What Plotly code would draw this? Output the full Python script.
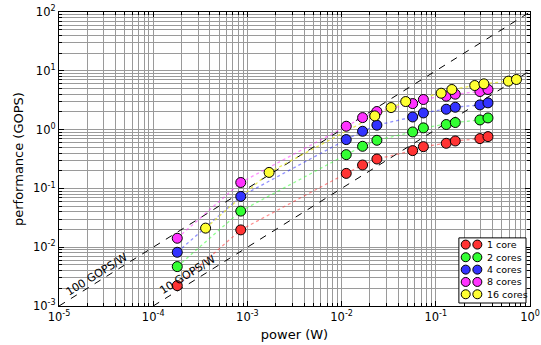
import numpy as np
import plotly.graph_objects as go

# ---- data ----
power_w = [1.8e-4, 8.5e-4, 0.0112, 0.0167, 0.0237, 0.0568, 0.0738, 0.129, 0.161, 0.294, 0.358]
power_w_16 = [3.6e-4, 1.7e-3, 0.0225, 0.0335, 0.0479, 0.114, 0.148, 0.259, 0.324, 0.590, 0.718]

perf_1 = [0.00222, 0.0197, 0.180, 0.25, 0.316, 0.439, 0.513, 0.585, 0.641, 0.703, 0.76]
perf_2 = [0.00468, 0.0411, 0.375, 0.52, 0.658, 0.912, 1.07, 1.22, 1.32, 1.46, 1.58]
perf_4 = [0.0082, 0.073, 0.676, 0.937, 1.19, 1.64, 1.92, 2.22, 2.40, 2.63, 2.85]
perf_8 = [0.0142, 0.126, 1.14, 1.60, 2.03, 2.77, 3.25, 3.70, 4.0, 4.44, 4.81]
perf_16 = [0.0211, 0.187, 1.71, 2.37, 3.0, 4.16, 4.81, 5.62, 6.0, 6.67, 7.12]

series_names = ["1 core", "2 cores", "4 cores", "8 cores", "16 cores"]
series_power = [power_w, power_w, power_w, power_w, power_w_16]
series_perf = [perf_1, perf_2, perf_4, perf_8, perf_16]
colors = ["#ff3333", "#33ff33", "#3333ff", "#ff33ff", "#ffff33"]
line_colors = ["rgba(255,51,51,0.55)", "rgba(51,255,51,0.55)", "rgba(51,51,255,0.55)",
               "rgba(255,51,255,0.55)", "rgba(230,230,40,0.8)"]

# efficiency reference lines (GOPS/W)
efficiencies = [100, 10]
eff_labels = ["100 GOPS/W", "10 GOPS/W"]
eff_x_start = [1e-5, 1e-4]
eff_x_end = [1.0, 1.0]

x_tick_exp = [-5, -4, -3, -2, -1, 0]
y_tick_exp = [-3, -2, -1, 0, 1, 2]
x_tick_text = ["10<sup>%d</sup>" % e for e in x_tick_exp]
y_tick_text = ["10<sup>%d</sup>" % e for e in y_tick_exp]

FONT = "DejaVu Sans"

fig = go.Figure()

for eff, x0, x1 in zip(efficiencies, eff_x_start, eff_x_end):
    xs = np.array([x0, x1])
    fig.add_trace(go.Scatter(x=xs, y=eff * xs, mode="lines",
                             line=dict(color="black", width=1, dash="7px,7px"),
                             showlegend=False, hoverinfo="skip"))

for name, px, py, c, lc in zip(series_names, series_power, series_perf, colors, line_colors):
    fig.add_trace(go.Scatter(x=px, y=py, mode="lines", line=dict(color=lc, width=1.3, dash="dot"),
                             showlegend=False, hoverinfo="skip"))
for name, px, py, c, lc in zip(series_names, series_power, series_perf, colors, line_colors):
    fig.add_trace(go.Scatter(x=px, y=py, mode="markers", name=name,
                             marker=dict(color=c, size=10, line=dict(color="black", width=1)),
                             showlegend=False))

# efficiency line labels
label_pos = [(-4.597, -2.472), (-3.631, -2.462)]
for (lx, ly), txt in zip(label_pos, eff_labels):
    fig.add_annotation(x=lx, y=ly, xref="x", yref="y", text=txt, showarrow=False,
                       textangle=-32, font=dict(family=FONT, size=11, color="black"))

# y-axis title
fig.add_annotation(x=-0.087, y=0.5, xref="paper", yref="paper", text="performance (GOPS)",
                   showarrow=False, textangle=-90, xanchor="center", yanchor="middle",
                   font=dict(family=FONT, size=13, color="black"))

# custom legend (two markers per entry, like the reference)
shapes = [dict(type="rect", xref="paper", yref="paper", x0=0.849, x1=0.9915, y0=0.0102, y1=0.2317,
               line=dict(color="black", width=1), fillcolor="white", layer="above")]
row_y = [0.2089, 0.1659, 0.1237, 0.0818, 0.0399]
for yy, c, name in zip(row_y, colors, series_names):
    for xx in (0.8635, 0.8882):
        shapes.append(dict(type="circle", xref="paper", yref="paper", xsizemode="pixel", ysizemode="pixel",
                           xanchor=xx, yanchor=yy, x0=-4.5, x1=4.5, y0=-4.5, y1=4.5,
                           fillcolor=c, line=dict(color="black", width=1), layer="above"))
    fig.add_annotation(x=0.905, y=yy, xref="paper", yref="paper", text=name, showarrow=False,
                       xanchor="left", yanchor="middle", font=dict(family=FONT, size=9.5, color="black"))

axis_common = dict(
    type="log", showline=True, linecolor="black", linewidth=1.2, mirror="allticks",
    ticks="inside", ticklen=5, tickcolor="black", tickwidth=1, automargin=False,
    showgrid=True, gridcolor="#9a9a9a", gridwidth=1, zeroline=False,
    tickfont=dict(family=FONT, size=11.5, color="black"),
    minor=dict(ticks="inside", ticklen=3, tickcolor="black", showgrid=True,
               gridcolor="#9a9a9a", gridwidth=1, dtick="D1"),
)

fig.update_xaxes(**axis_common, range=[-5, 0], tickmode="array",
                 tickvals=[10.0 ** e for e in x_tick_exp], ticktext=x_tick_text,
                 title=dict(text="power (W)", font=dict(family=FONT, size=13, color="black"), standoff=6))
fig.update_yaxes(**axis_common, range=[-3, 2], tickmode="array",
                 tickvals=[10.0 ** e for e in y_tick_exp], ticktext=y_tick_text)

fig.update_layout(
    width=541, height=345,
    margin=dict(l=59, r=11, t=12, b=39),
    paper_bgcolor="white", plot_bgcolor="white",
    shapes=shapes, showlegend=False,
    font=dict(family=FONT, color="black"),
)

fig.write_html("out.html")
